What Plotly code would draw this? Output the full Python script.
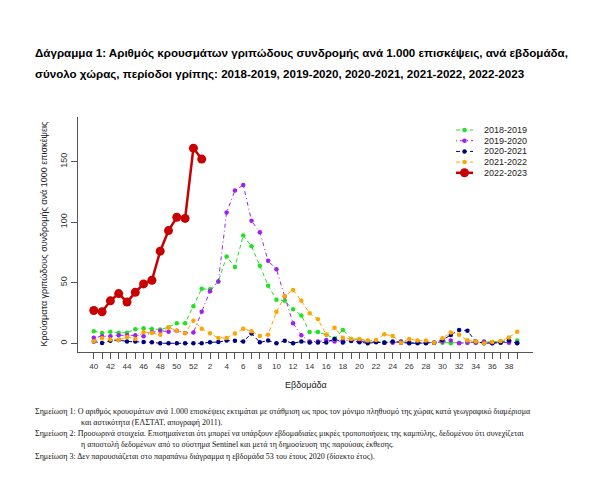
import plotly.graph_objects as go

# ---------------- data ----------------
weeks = list(range(40, 53)) + list(range(1, 40))
tick_labels = [str(w) if w % 2 == 0 else "" for w in weeks]

series_names = ["2018-2019", "2019-2020", "2020-2021", "2021-2022", "2022-2023"]

s2018_2019 = [10, 8.5, 9.5, 8.7, 8.6, 11.6, 12.4, 11.8, 11.3, 13.3, 16.5, 16.5, 30.5,
              45, 44.5, 51, 71.5, 63, 89, 80, 64, 47.5, 36, 35, 28, 23, 9.3, 9.3,
              7, 4, 11, 3.6, 3, 2, 1.5, 1, 1, 1.4, 0.5, 0.5, 0.5, 0.5, 0.5, 0,
              0.5, 0.5, 0.5, 1, 1, 1.5, 2.2, 2.2]
s2019_2020 = [4.6, 5.8, 5.8, 6.6, 6.6, 6.6, 5.8, 9, 10.4, 9.5, 10.4, 8.5, 8.8,
              26, 43, 51, 108, 126, 130.6, 101, 91.6, 68, 61, 38.5, 16.5, 6.6, 1.4, 1.4,
              2.7, 1.4, 2.2, 2.5, 2, 0.8, 1.4, 0.5, 0.5, 1.4, 0.5, 0.5, 0.5, 0.5, 1.4, 2.2,
              0, 0.5, 0.5, 1.4, 0, 0.8, 0.5, 0.5]
s2020_2021 = [1.5, 0.2, 2, 2.7, 1.5, 1.4, 1, 0.8, 0, 0, 0, 0, 0,
              0, 0.8, 1, 2.2, 2, 1.5, 8, 0.8, 2.2, 0, 2, 0, 1.4, 0.6, 0.6,
              0.6, 3.6, 0.6, 1.9, 0.8, 0, 0.8, 0.5, 1.4, 0.5, 0, 0, 0, 0.5, 2.7, 6.9,
              11, 10.4, 1.4, 0, 0, 0.5, 2.2, 0]
s2021_2022 = [1.6, 4.1, 3.2, 2.7, 5.2, 3.5, 9.3, 8.5, 7, 13.2, 10.4, 8.2, 18.6,
              12, 8.2, 4.4, 4.4, 8, 12, 10, 6, 7.1, 26, 39, 44, 35, 24.7, 19.8,
              7, 12.9, 4.6, 3.6, 3.6, 2.2, 2.7, 7.4, 6, 0.5, 3.6, 2.2, 2.2, 0.5, 4.1, 8.8,
              7, 2.5, 1.4, 0, 1, 1.8, 4.8, 9.6]
s2022_2023 = [27, 26, 35, 41, 34, 42, 49, 52, 76, 93, 104, 103, 161, 152]

series_values = [s2018_2019, s2019_2020, s2020_2021, s2021_2022, s2022_2023]

colors = ["#22e022", "#a020f0", "#000080", "#ffa500", "#c80000"]
dashes = ["4px,3px", "1px,3px,4px,3px", "4px,3px", "4px,3px", "solid"]
widths = [1, 1, 1, 1, 2.5]
msizes = [4.5, 4.5, 4.5, 4.5, 9]

title_lines = [
    "Δάγραμμα 1: Αριθμός κρουσμάτων γριπώδους συνδρομής ανά 1.000 επισκέψεις, ανά εβδομάδα,",
    "σύνολο χώρας, περίοδοι γρίπης: 2018-2019, 2019-2020, 2020-2021, 2021-2022, 2022-2023",
]
y_title = "Κρούσματα γριπώδους συνδρομής ανά 1000 επισκέψεις"
x_title = "Εβδομάδα"
notes = [
    "Σημείωση 1: Ο αριθμός κρουσμάτων ανά 1.000 επισκέψεις εκτιμάται με στάθμιση ως προς τον μόνιμο πληθυσμό της χώρας κατά γεωγραφικό διαμέρισμα",
    "και αστικότητα (ΕΛΣΤΑΤ, απογραφή 2011).",
    "Σημείωση 2: Προσωρινά στοιχεία. Επισημαίνεται ότι μπορεί να υπάρξουν εβδομαδιαίες μικρές τροποποιήσεις της καμπύλης, δεδομένου ότι συνεχίζεται",
    "η αποστολή δεδομένων από το σύστημα Sentinel και μετά τη δημοσίευση της παρούσας έκθεσης.",
    "Σημείωση 3: Δεν παρουσιάζεται στο παραπάνω διάγραμμα η εβδομάδα 53 του έτους 2020 (δίσεκτο έτος).",
]

# ---------------- layout geometry (pixels) ----------------
W, H = 600, 484
L, R, T, B = 78, 533, 117, 352


def px(x):
    return (x - L) / (R - L)


def py(y):
    return (B - y) / (B - T)


fig = go.Figure()
for name, vals, c, d, w, ms in zip(series_names, series_values, colors, dashes, widths, msizes):
    fig.add_trace(go.Scatter(
        x=list(range(len(vals))), y=vals, name=name, mode="lines+markers",
        line=dict(color=c, width=w, dash=d),
        marker=dict(color=c, size=ms),
        showlegend=False, hoverinfo="skip",
    ))

annotations = []
shapes = []

# title
for i, t in enumerate(title_lines):
    annotations.append(dict(
        text="<b>" + t + "</b>", xref="paper", yref="paper",
        x=px(33), y=py(53 + i * 20.5), xanchor="left", yanchor="middle",
        showarrow=False, font=dict(family="Liberation Sans, Arial", size=11.6, color="black"),
    ))

# axis titles
annotations.append(dict(
    text=y_title, xref="paper", yref="paper", x=px(43), y=py((T + B) / 2),
    textangle=-90, xanchor="center", yanchor="middle", showarrow=False,
    font=dict(family="Liberation Sans, Arial", size=9, color="#222"),
))
annotations.append(dict(
    text=x_title, xref="paper", yref="paper", x=px((L + R) / 2), y=py(385),
    xanchor="center", yanchor="middle", showarrow=False,
    font=dict(family="Liberation Sans, Arial", size=9, color="#222"),
))

# notes
note_pos = [(33, 411), (79, 422), (33, 433.5), (79, 444.5), (33, 456)]
for t, (nx, ny) in zip(notes, note_pos):
    annotations.append(dict(
        text=t, xref="paper", yref="paper", x=px(nx), y=py(ny),
        xanchor="left", yanchor="middle", showarrow=False,
        font=dict(family="Liberation Serif, Times New Roman", size=8, color="#111"),
    ))

# manual legend
leg_y = [130, 140.7, 151.4, 162.1, 172.8]
for name, c, d, w, ms, ly in zip(series_names, colors, dashes, widths, msizes, leg_y):
    shapes.append(dict(type="line", xref="paper", yref="paper",
                       x0=px(456), x1=px(473), y0=py(ly), y1=py(ly),
                       line=dict(color=c, width=w, dash=d)))
    r = ms / 2
    shapes.append(dict(type="circle", xref="paper", yref="paper",
                       xsizemode="pixel", ysizemode="pixel",
                       xanchor=px(464.5), yanchor=py(ly),
                       x0=-r, x1=r, y0=-r, y1=r,
                       fillcolor=c, line=dict(color=c, width=0)))
    annotations.append(dict(
        text=name, xref="paper", yref="paper", x=px(482), y=py(ly),
        xanchor="left", yanchor="middle", showarrow=False,
        font=dict(family="Liberation Sans, Arial", size=9, color="#222"),
    ))

axis_col = "#555"
fig.update_layout(
    width=W, height=H,
    margin=dict(l=L, r=W - R, t=T, b=H - B, pad=0),
    paper_bgcolor="white", plot_bgcolor="white",
    showlegend=False, hovermode=False,
    annotations=annotations, shapes=shapes,
    xaxis=dict(
        range=[-1.9, 52.9], tickmode="array",
        tickvals=list(range(len(weeks))), ticktext=tick_labels,
        ticks="outside", ticklen=6, tickcolor=axis_col, tickwidth=1,
        showline=True, linecolor=axis_col, linewidth=1,
        showgrid=False, zeroline=False, tickangle=0,
        tickfont=dict(family="Liberation Sans, Arial", size=8, color="#333"),
    ),
    yaxis=dict(
        range=[-7.2, 186.7], tickmode="array", tickvals=[0, 50, 100, 150],
        ticks="outside", ticklen=6, tickcolor=axis_col, tickwidth=1,
        showline=True, linecolor=axis_col, linewidth=1,
        showgrid=False, zeroline=False, tickangle=-90,
        tickfont=dict(family="Liberation Sans, Arial", size=9, color="#333"),
    ),
)

fig.write_html("out.html", config={"displayModeBar": False},
               post_script="document.body.style.margin='0px';")
